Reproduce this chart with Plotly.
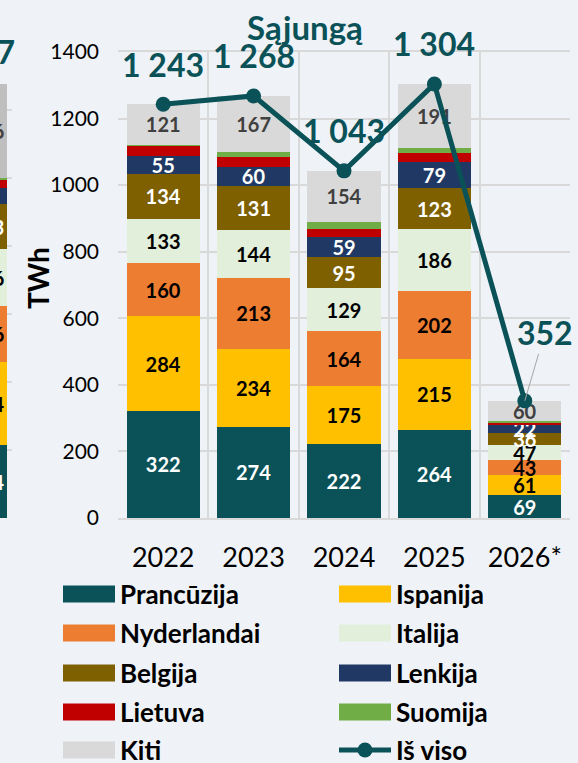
import plotly.graph_objects as go

# ---------------- data ----------------
years = ["2022", "2023", "2024", "2025", "2026*"]
france = [322, 274, 222, 264, 69]
spain = [284, 234, 175, 215, 61]
netherlands = [160, 213, 164, 202, 43]
italy = [133, 144, 129, 186, 47]
belgium = [134, 131, 95, 123, 36]
poland = [55, 60, 59, 79, 22]
lithuania = [31, 29, 23, 29, 10]
finland = [3, 16, 22, 15, 4]
others = [121, 167, 154, 191, 60]
totals = [1243, 1268, 1043, 1304, 352]

# partly visible neighbouring panel on the left edge
prev_values = [214, 244, 166, 166, 133, 47, 26, 5, 276]
prev_total = 1277

names = ["Prancūzija", "Ispanija", "Nyderlandai", "Italija", "Belgija",
         "Lenkija", "Lietuva", "Suomija", "Kiti"]
total_name = "Iš viso"
title_text = "Sąjungą"
y_title = "TWh"

# ---------------- style ----------------
W, H = 578, 763
FONT = "Lato"
TEAL = "#0a5258"
BG = "#eff3f7"
GRID = "#d9d9d9"
colors = ["#0a5258", "#ffc000", "#ed7d31", "#e2efda", "#7f6000",
          "#203864", "#c00000", "#70ad47", "#d9d9d9"]
prev_colors = colors[:-1] + ["#bfbfbf"]
label_colors = ["white", "black", "black", "black", "white",
                "white", None, None, "#404040"]

series = [france, spain, netherlands, italy, belgium, poland, lithuania, finland, others]


def px_x(p):
    return p / W


def px_y(p):
    return 1 - p / H


fig = go.Figure()

for i, (name, vals) in enumerate(zip(names, series)):
    show = label_colors[i] is not None
    fig.add_trace(go.Bar(
        x=years, y=vals, name=name, marker=dict(color=colors[i], line=dict(width=0)),
        texttemplate="%{y}" if show else "",
        textposition="inside" if show else "none",
        insidetextanchor="middle", textangle=0,
        textfont=dict(family=FONT, size=20, color=label_colors[i] or "black", weight="bold"),
        xaxis="x", yaxis="y", showlegend=False, hoverinfo="skip",
    ))
    fig.add_trace(go.Bar(
        x=[0], y=[prev_values[i]], name=name,
        marker=dict(color=prev_colors[i], line=dict(width=0)),
        texttemplate="%{y}" if show else "",
        textposition="inside" if show else "none",
        insidetextanchor="middle", textangle=0,
        textfont=dict(family=FONT, size=20, color=label_colors[i] or "black", weight="bold"),
        xaxis="x2", yaxis="y2", showlegend=False, hoverinfo="skip",
    ))

fig.add_trace(go.Scatter(
    x=years, y=totals, name=total_name, mode="lines+markers",
    line=dict(color=TEAL, width=5), marker=dict(color=TEAL, size=15),
    xaxis="x", yaxis="y", showlegend=False, hoverinfo="skip",
))

annotations = []
for i, tot in enumerate(totals):
    txt = f"{tot:,}".replace(",", " ")
    if i == len(years) - 1:
        annotations.append(dict(
            x=i, y=tot, xref="x", yref="y", text=txt, showarrow=True,
            arrowhead=0, arrowwidth=1, arrowcolor="#a6a6a6", ax=20, ay=-68,
            font=dict(family=FONT, size=32, color=TEAL, weight="bold"),
        ))
    else:
        annotations.append(dict(
            x=i, y=tot, xref="x", yref="y", text=txt, showarrow=False,
            yshift=40, font=dict(family=FONT, size=32, color=TEAL, weight="bold"),
        ))

annotations.append(dict(
    x=px_x(17), y=prev_total, xref="paper", yref="y2",
    text=f"{prev_total:,}".replace(",", " "),
    showarrow=False, yshift=32, xanchor="right", yanchor="middle",
    font=dict(family=FONT, size=32, color=TEAL, weight="bold"),
))

annotations.append(dict(
    x=px_x(305), y=px_y(27), xref="paper", yref="paper", text=title_text,
    showarrow=False, xanchor="center", yanchor="middle",
    font=dict(family=FONT, size=33, color=TEAL, weight="bold"),
))
annotations.append(dict(
    x=px_x(38), y=px_y(278), xref="paper", yref="paper", text=y_title,
    showarrow=False, textangle=-90, xanchor="center", yanchor="middle",
    font=dict(family=FONT, size=28, color="black", weight="bold"),
))

# manual legend (two columns)
shapes = []
legend_names = names + [total_name]
col_x = [63, 339]
row_y = [594, 633, 673, 712, 750]
for k, nm in enumerate(legend_names):
    cx = col_x[k % 2]
    cy = row_y[k // 2]
    if k < len(names):
        shapes.append(dict(type="rect", xref="paper", yref="paper",
                           x0=px_x(cx), x1=px_x(cx + 52), y0=px_y(cy + 8.5), y1=px_y(cy - 8.5),
                           fillcolor=colors[k], line=dict(width=0)))
    else:
        shapes.append(dict(type="line", xref="paper", yref="paper",
                           x0=px_x(cx), x1=px_x(cx + 52), y0=px_y(cy), y1=px_y(cy),
                           line=dict(color=TEAL, width=5)))
        shapes.append(dict(type="circle", xref="paper", yref="paper",
                           x0=px_x(cx + 26 - 7.5), x1=px_x(cx + 26 + 7.5),
                           y0=px_y(cy + 7.5), y1=px_y(cy - 7.5),
                           fillcolor=TEAL, line=dict(width=0)))
    annotations.append(dict(
        x=px_x(cx + 55), y=px_y(cy), xref="paper", yref="paper", text=nm,
        showarrow=False, xanchor="left", yanchor="middle",
        font=dict(family=FONT, size=26, color="black", weight="bold"),
    ))

fig.update_layout(
    width=W, height=H, template="none",
    paper_bgcolor=BG, plot_bgcolor=BG,
    margin=dict(l=0, r=0, t=0, b=0),
    barmode="stack", bargap=0.19,
    uniformtext=dict(mode="show", minsize=20),
    font=dict(family=FONT, color="black"),
    showlegend=False,
    xaxis=dict(domain=[px_x(118), px_x(570)], type="category", range=[-0.5, 4.5],
               tickson="boundaries", showgrid=True, gridcolor=GRID, gridwidth=1.5,
               ticks="", ticklabelstandoff=15, tickfont=dict(size=27, family=FONT),
               showline=True, mirror=True, linecolor=GRID, linewidth=1.5,
               zeroline=False, automargin=False, anchor="y"),
    yaxis=dict(domain=[px_y(518), px_y(52)], range=[0, 1400], dtick=200, tickformat="d",
               showgrid=True, gridcolor=GRID, gridwidth=1.5, ticks="",
               ticklabelstandoff=18, tickfont=dict(size=21, family=FONT),
               showline=False, zeroline=False, automargin=False, anchor="x"),
    xaxis2=dict(domain=[0, px_x(12)], range=[0.26, 0.5], tickvals=[0.5],
                showticklabels=False, showgrid=True, gridcolor=GRID, gridwidth=1.5,
                ticks="", zeroline=False, automargin=False, anchor="y2"),
    yaxis2=dict(domain=[px_y(518), px_y(42)], range=[0, 1400], dtick=200,
                showticklabels=False, showgrid=True, gridcolor=GRID, gridwidth=1.5,
                ticks="", zeroline=False, automargin=False, anchor="x2"),
    annotations=annotations, shapes=shapes,
)

fig.write_html(
    "out.html",
    config={"displayModeBar": False},
    post_script="document.body.style.margin='0';document.body.style.overflow='hidden';",
)
